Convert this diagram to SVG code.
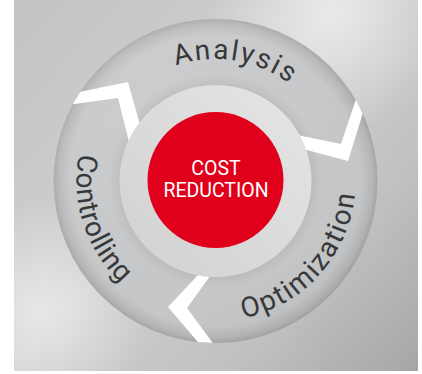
<svg xmlns="http://www.w3.org/2000/svg" width="422" height="374" viewBox="0 0 422 374">
  <defs>
    <style>
      .lbl { font-family: Roboto, "DejaVu Sans", sans-serif; font-size: 28px; fill: #37383a; }
      .ctr { font-family: Roboto, "DejaVu Sans", sans-serif; font-size: 19.5px; fill: #ffffff; text-anchor: middle; }
      .chev { fill: #ffffff; }
    </style>
    <linearGradient id="bg" x1="14" y1="0" x2="418" y2="371" gradientUnits="userSpaceOnUse">
      <stop offset="0" stop-color="#c3c3c3"/>
      <stop offset="0.45" stop-color="#d0d0d0"/>
      <stop offset="0.75" stop-color="#c0c0c0"/>
      <stop offset="1" stop-color="#a6a6a6"/>
    </linearGradient>
    <radialGradient id="hl1" cx="330" cy="15" r="120" gradientUnits="userSpaceOnUse">
      <stop offset="0" stop-color="#ffffff" stop-opacity="0.55"/>
      <stop offset="1" stop-color="#ffffff" stop-opacity="0"/>
    </radialGradient>
    <radialGradient id="hl2" cx="40" cy="310" r="110" gradientUnits="userSpaceOnUse">
      <stop offset="0" stop-color="#ffffff" stop-opacity="0.5"/>
      <stop offset="1" stop-color="#ffffff" stop-opacity="0"/>
    </radialGradient>
    <radialGradient id="ring" cx="215.5" cy="181" r="162" gradientUnits="userSpaceOnUse">
      <stop offset="0.58" stop-color="#b9babc"/>
      <stop offset="0.66" stop-color="#c6c7c9"/>
      <stop offset="0.9" stop-color="#c5c6c8"/>
      <stop offset="0.97" stop-color="#b4b5b7"/>
      <stop offset="1" stop-color="#a4a5a7"/>
    </radialGradient>
    <linearGradient id="ringlight" x1="120" y1="40" x2="330" y2="330" gradientUnits="userSpaceOnUse">
      <stop offset="0" stop-color="#ffffff" stop-opacity="0.12"/>
      <stop offset="0.6" stop-color="#ffffff" stop-opacity="0"/>
      <stop offset="1" stop-color="#000000" stop-opacity="0.06"/>
    </linearGradient>
    <linearGradient id="inner" x1="300" y1="95" x2="130" y2="270" gradientUnits="userSpaceOnUse">
      <stop offset="0" stop-color="#e4e4e4"/>
      <stop offset="1" stop-color="#d2d2d2"/>
    </linearGradient>
    <clipPath id="outerClip">
      <circle cx="215.5" cy="181" r="162"/>
    </clipPath>
    <path id="arcA" d="M 120.7 104.2 A 122 122 0 0 1 329.4 137.3"/>
    <path id="arcC" d="M 112.2 88.0 A 139 139 0 0 0 186.6 317.0"/>
    <path id="arcO" d="M 163.1 310.8 A 140 140 0 0 0 339.1 115.3"/>
  </defs>

  <rect x="14" y="0" width="404" height="371" fill="url(#bg)"/>
  <rect x="14" y="0" width="404" height="371" fill="url(#hl1)"/>
  <rect x="14" y="0" width="404" height="371" fill="url(#hl2)"/>

  <g id="ring-base">
    <circle cx="215.5" cy="181" r="162" fill="url(#ring)"/>
    <circle cx="215.5" cy="181" r="162" fill="url(#ringlight)"/>
  </g>

  <g id="connectors" clip-path="url(#outerClip)">
    <polygon class="chev" points="60,96 128,82 147,150 131,150 118,98 60,106"/>
    <polygon class="chev" points="290,145.4 348,161 370,90 359,90 341,144 290,133.5"/>
    <polygon class="chev" points="207.3,265 168,307 209,355 221.6,355 187,308 218,265"/>
  </g>

  <g id="inner-ring">
    <circle cx="215.5" cy="181" r="96" fill="url(#inner)"/>
  </g>

  <g id="node-cost-reduction">
    <circle cx="215.5" cy="180" r="68" fill="#e1001b"/>
    <text class="ctr" x="216" y="175">COST</text>
    <text class="ctr" x="216" y="197">REDUCTION</text>
  </g>

  <g id="node-analysis">
    <text class="lbl"><textPath href="#arcA" startOffset="50%" text-anchor="middle" textLength="119" lengthAdjust="spacing">Analysis</textPath></text>
  </g>
  <g id="node-optimization">
    <text class="lbl"><textPath href="#arcO" startOffset="50%" text-anchor="middle" textLength="178" lengthAdjust="spacing">Optimization</textPath></text>
  </g>
  <g id="node-controlling">
    <text class="lbl"><textPath href="#arcC" startOffset="50%" text-anchor="middle" textLength="142" lengthAdjust="spacing">Controlling</textPath></text>
  </g>
</svg>
